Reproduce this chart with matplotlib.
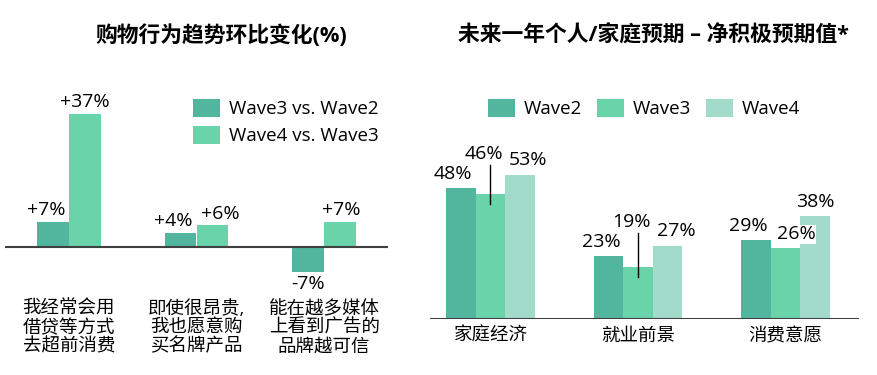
import numpy as np
import matplotlib.pyplot as plt

FONT = ['Open Sans', 'Noto Sans CJK SC', 'DejaVu Sans']
plt.rcParams['font.family'] = FONT

# left chart data
left_title = "购物行为趋势环比变化(%)"
left_cats = ["我经常会用\n借贷等方式\n去超前消费", "即使很昂贵,\n我也愿意购\n买名牌产品", "能在越多媒体\n上看到广告的\n品牌越可信"]
left_series = ["Wave3 vs. Wave2", "Wave4 vs. Wave3"]
w3_vs_w2 = [7, 4, -7]
w4_vs_w3 = [37, 6, 7]

# right chart data
right_title = "未来一年个人/家庭预期 – 净积极预期值*"
right_cats = ["家庭经济", "就业前景", "消费意愿"]
right_series = ["Wave2", "Wave3", "Wave4"]
wave2 = [48, 23, 29]
wave3 = [46, 19, 26]
wave4 = [53, 27, 38]

c_dark = '#52b69e'
c_mid = '#6ad3aa'
c_light = '#a3dbcb'
c_axis = '#404040'

W, H = 877, 375
fig = plt.figure(figsize=(W / 100, H / 100), dpi=100)
PX = 72 / 100  # points per pixel
FS_VAL = 14
FS_CAT = 13.3
FS_LEG = 13.5


def px_axes(x0, y_top, x1, y_bot):
    return fig.add_axes([x0 / W, 1 - y_bot / H, (x1 - x0) / W, (y_bot - y_top) / H])


fig.text(221 / W, 1 - 36 / H, left_title, ha='center', va='center', fontsize=15.7, fontweight='bold')
fig.text(653 / W, 1 - 36 / H, right_title, ha='center', va='center', fontsize=15.7, fontweight='bold')

# ---------------- left chart ----------------
ax = px_axes(5, 80, 388, 300)
ax.set_xlim(-0.5, 2.5)
ax.set_ylim(-53 / 3.6, 167 / 3.6)
ax.axis('off')
x = np.arange(len(left_cats))
bw = 0.25
ax.bar(x - bw / 2, w3_vs_w2, bw, color=c_dark, label=left_series[0])
ax.bar(x + bw / 2, w4_vs_w3, bw, color=c_mid, label=left_series[1])
ax.axhline(0, color=c_axis, lw=1.5)

# label x offsets in px (layout only)
dx1 = [-7, -7, 0]
dx2 = [0, 8, 1]
for i in range(len(x)):
    for xs, v, dx in ((x[i] - bw / 2, w3_vs_w2[i], dx1[i]), (x[i] + bw / 2, w4_vs_w3[i], dx2[i])):
        lab = f"+{v}%" if v > 0 else f"{v}%"
        if v >= 0:
            ax.annotate(lab, (xs, v), xytext=(dx * PX, 2), textcoords='offset points',
                        ha='center', va='bottom', fontsize=FS_VAL)
        else:
            ax.annotate(lab, (xs, v), xytext=(dx * PX, -2), textcoords='offset points',
                        ha='center', va='top', fontsize=FS_VAL)
    ax.annotate(left_cats[i], (x[i], 0), xytext=(0, -53 * PX), textcoords='offset points',
                ha='center', va='top', fontsize=FS_CAT, linespacing=1.05)

ax.legend(loc='upper left', bbox_to_anchor=(193 / W, 1 - 99 / H), bbox_transform=fig.transFigure,
          frameon=False, fontsize=FS_LEG, handlelength=1.45, handleheight=1.1, handletextpad=0.45,
          labelspacing=0.4, borderpad=0, borderaxespad=0)

# ---------------- right chart ----------------
ax2 = px_axes(430, 80, 859, 319)
ax2.set_xlim(-0.41, 2.5)
ax2.set_ylim(0, 239 / 2.72)
ax2.axis('off')
bw2 = 0.2
xr = np.arange(len(right_cats))
vals = [wave2, wave3, wave4]
cols = [c_dark, c_mid, c_light]
for k in range(3):
    ax2.bar(xr + (k - 1) * bw2, vals[k], bw2, color=cols[k], label=right_series[k])
ax2.axhline(0, color=c_axis, lw=1.5)

unit = 1 / 2.72  # data units per pixel
# label offsets in px (layout only): (dx, dy above bar top)
offs = [[(-8, 14), (-7, 40), (8, 15)],
        [(-7, 14), (-6, 45), (9, 15)],
        [(-7, 14), (11, 14), (1, 14)]]
for i in range(len(xr)):
    for k in range(3):
        xs = xr[i] + (k - 1) * bw2
        v = vals[k][i]
        dx, dy = offs[i][k]
        ax2.annotate(f"{v}%", (xs, v), xytext=(dx * PX, dy * PX), textcoords='offset points',
                     ha='center', va='center', fontsize=FS_VAL,
                     bbox=dict(facecolor='white', edgecolor='none', pad=0.5))
        if dy > 20:
            ax2.plot([xs, xs], [v - 10 * unit, v + (dy - 11) * unit], color='black', lw=1)
    ax2.annotate(right_cats[i], (xr[i], 0), xytext=(0, -17 * PX), textcoords='offset points',
                 ha='center', va='center', fontsize=FS_CAT)

ax2.legend(loc='upper left', bbox_to_anchor=(488 / W, 1 - 99 / H), bbox_transform=fig.transFigure,
           ncol=3, frameon=False, fontsize=FS_LEG, handlelength=1.45, handleheight=1.1,
           handletextpad=0.45, columnspacing=0.8, borderpad=0, borderaxespad=0)

fig.savefig('out.png', dpi=100)
